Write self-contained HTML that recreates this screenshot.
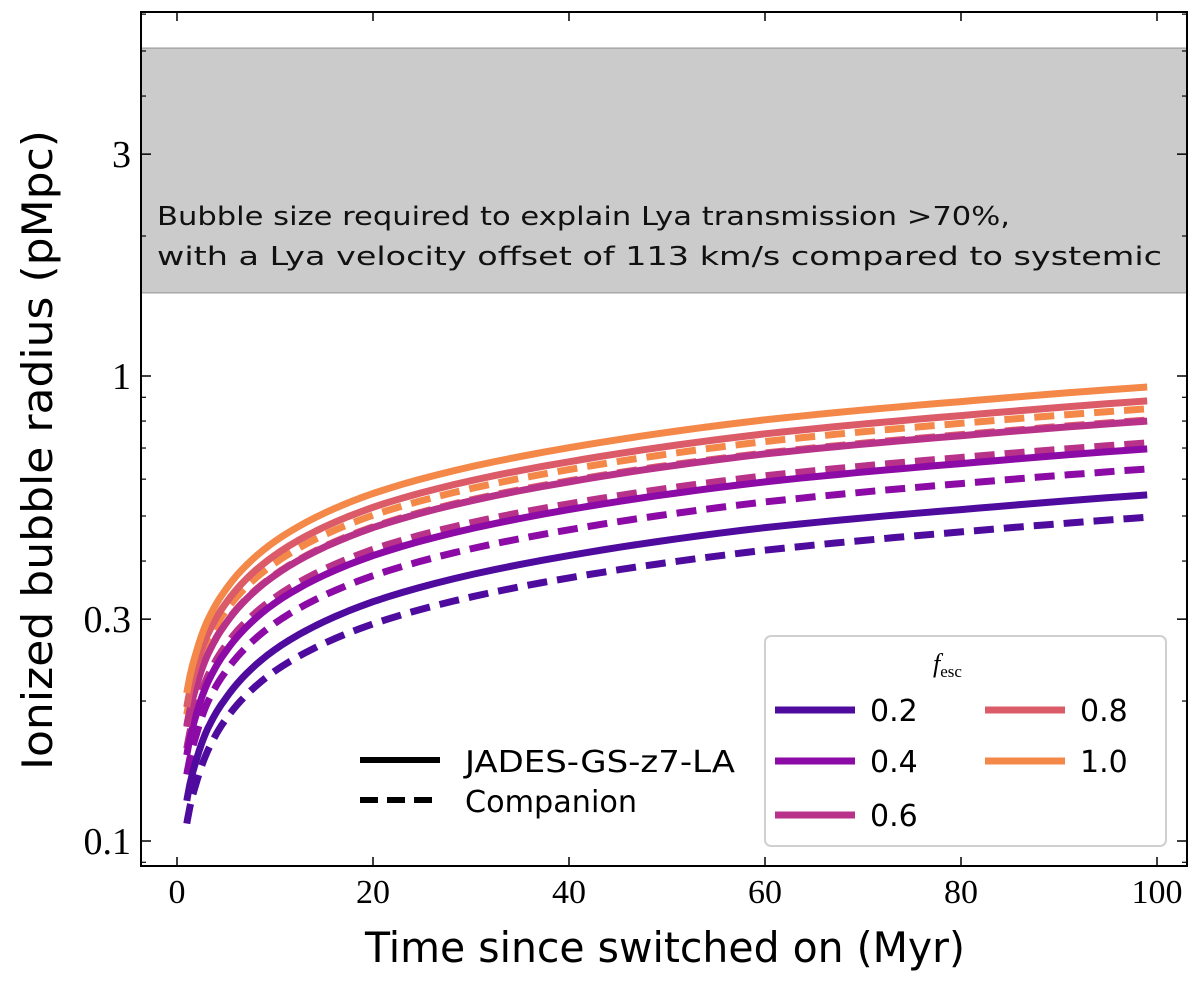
<!DOCTYPE html>
<html><head><meta charset="utf-8"><style>
html,body{margin:0;padding:0;background:#fff;}
svg text{font-family:"DejaVu Sans","Liberation Sans",sans-serif;}
.serif{font-family:"Liberation Serif",serif;}
</style></head><body>
<svg id="chart" width="1200" height="984" viewBox="0 0 1200 984">
<defs><clipPath id="clip"><rect x="141" y="12" width="1046" height="854"/></clipPath></defs>
<g id="plot"></g>
</svg>
<script>
const times=[1,2,3,5,10,20,40,60,80,99];
const fescLabels=["0.2","0.4","0.6","0.8","1.0"];
const colors=["#4f0b9e","#8c0aa5","#b93289","#db5c68","#f48849"];
const solid02=[0.122,0.150,0.172,0.203,0.258,0.327,0.411,0.472,0.516,0.555];
const solid04=[0.153,0.188,0.216,0.256,0.325,0.411,0.516,0.592,0.648,0.697];
const solid06=[0.176,0.216,0.248,0.294,0.373,0.472,0.592,0.680,0.744,0.80];
const solid08=[0.194,0.239,0.274,0.325,0.412,0.522,0.654,0.751,0.822,0.884];
const solid10=[0.208,0.256,0.294,0.348,0.441,0.559,0.701,0.805,0.881,0.947];
const dash02=[0.109,0.134,0.154,0.183,0.232,0.293,0.368,0.422,0.462,0.497];
const dash04=[0.139,0.170,0.196,0.232,0.294,0.372,0.467,0.536,0.587,0.631];
const dash06=[0.158,0.194,0.223,0.264,0.334,0.424,0.531,0.610,0.668,0.718];
const dash08=[0.177,0.217,0.249,0.295,0.374,0.474,0.595,0.683,0.748,0.804];
const dash10=[0.187,0.230,0.264,0.313,0.396,0.502,0.629,0.723,0.791,0.85];
const band=[1.51,5.07];
const xTicks=[0,20,40,60,80,100];
const yTicks=[0.1,0.3,1,3];
const yTickLabels=["0.1","0.3","1","3"];
const yMinor=[0.09,0.2,0.4,0.5,0.6,0.7,0.8,0.9,2,4,5,6];

const L=141,R=1187,T=12,B=866;
const X=v=>177+(v)*9.8;
const Y=v=>376-Math.log10(v)*465;
const NS="http://www.w3.org/2000/svg";
const g=document.getElementById('plot');
function mk(tag,attrs,parent){const e=document.createElementNS(NS,tag);for(const k in attrs)e.setAttribute(k,attrs[k]);(parent||g).appendChild(e);return e;}

const bandEl=mk('rect',{x:L,y:Y(band[1]),width:R-L,height:Y(band[0])-Y(band[1]),fill:'#cbcbcb',stroke:'#a8a8a8','stroke-width':1.5});


const t1=mk('text',{x:157,y:225,'font-size':26,fill:'#111',textLength:853,lengthAdjust:'spacingAndGlyphs'});t1.textContent="Bubble size required to explain Lya transmission >70%,";


const t2=mk('text',{x:157,y:265,'font-size':26,fill:'#111',textLength:1005,lengthAdjust:'spacingAndGlyphs'});t2.textContent="with a Lya velocity offset of 113 km/s compared to systemic";



function path(vals){
  const pts=[];
  for(let i=0;i<times.length-1;i++){
    for(let s=0;s<10;s++){
      const f=s/10;
      const lt=Math.log(times[i])*(1-f)+Math.log(times[i+1])*f;
      const lv=Math.log(vals[i])*(1-f)+Math.log(vals[i+1])*f;
      pts.push([X(Math.exp(lt)),Y(Math.exp(lv))]);
    }
  }
  pts.push([X(times[times.length-1]),Y(vals[vals.length-1])]);
  return 'M'+pts.map(p=>p[0].toFixed(1)+','+p[1].toFixed(1)).join('L');
}
const solids=[solid02,solid04,solid06,solid08,solid10];
const dashes=[dash02,dash04,dash06,dash08,dash10];
const cg=mk('g',{'clip-path':'url(#clip)'});
for(let i=0;i<5;i++){
  const d=mk('path',{d:path(dashes[i]),fill:'none',stroke:colors[i],'stroke-width':7,'stroke-dasharray':'20 10','stroke-linejoin':'round'},cg);
  
  
}
for(let i=0;i<5;i++){
  const s=mk('path',{d:path(solids[i]),fill:'none',stroke:colors[i],'stroke-width':7,'stroke-linejoin':'round'},cg);
  
  
}

const fr=mk('rect',{x:L,y:T,width:R-L,height:B-T,fill:'none',stroke:'#000','stroke-width':2});


xTicks.forEach(v=>{
  mk('line',{x1:X(v),x2:X(v),y1:B,y2:B-9,stroke:'#000','stroke-width':1.5});
  mk('line',{x1:X(v),x2:X(v),y1:T,y2:T+9,stroke:'#000','stroke-width':1.5});
  const t=mk('text',{x:X(v),y:903,'font-size':34,'text-anchor':'middle',class:'serif'});t.textContent=v;
  
  
});
yTicks.forEach((v,i)=>{
  mk('line',{x1:L,x2:L+10,y1:Y(v),y2:Y(v),stroke:'#000','stroke-width':1.5});
  mk('line',{x1:R,x2:R-10,y1:Y(v),y2:Y(v),stroke:'#000','stroke-width':1.5});
  const t=mk('text',{x:131,y:Y(v)+13,'font-size':38,'text-anchor':'end',class:'serif'});t.textContent=yTickLabels[i];
  
  
});
yMinor.forEach(v=>{
  mk('line',{x1:L,x2:L+5,y1:Y(v),y2:Y(v),stroke:'#000','stroke-width':1.2});
  mk('line',{x1:R,x2:R-5,y1:Y(v),y2:Y(v),stroke:'#000','stroke-width':1.2});
});
const xt=mk('text',{x:365,y:962,'font-size':42,textLength:600,lengthAdjust:'spacingAndGlyphs'});xt.textContent="Time since switched on (Myr)";


const yt=mk('text',{x:0,y:0,'font-size':42,textLength:640,lengthAdjust:'spacingAndGlyphs',transform:'translate(52,770) rotate(-90)'});yt.textContent="Ionized bubble radius (pMpc)";



mk('line',{x1:360,x2:440,y1:760,y2:760,stroke:'#000','stroke-width':6});
mk('line',{x1:360,x2:440,y1:800,y2:800,stroke:'#000','stroke-width':6,'stroke-dasharray':'18 9'});
const l1=mk('text',{x:465,y:772,'font-size':30,textLength:270,lengthAdjust:'spacingAndGlyphs'});l1.textContent="JADES-GS-z7-LA";


const l2=mk('text',{x:465,y:812,'font-size':30,textLength:172,lengthAdjust:'spacingAndGlyphs'});l2.textContent="Companion";



const lb=mk('rect',{x:765,y:636,width:401,height:210,rx:6,fill:'#fff',stroke:'#d0d0d0','stroke-width':2});


const lt=mk('text',{x:933,y:672,'font-size':26,'font-style':'italic',class:'serif'});lt.textContent="f";
const ls=mk('tspan',{dy:5,'font-size':17,'font-style':'normal'},lt);ls.textContent="esc";


const pos=[[775,710],[775,761],[775,815],[985,710],[985,761]];
for(let i=0;i<5;i++){
  mk('line',{x1:pos[i][0],x2:pos[i][0]+80,y1:pos[i][1],y2:pos[i][1],stroke:colors[i],'stroke-width':7});
  const t=mk('text',{x:pos[i][0]+95,y:pos[i][1]+11,'font-size':30});t.textContent=fescLabels[i];
  
  
}
</script>
</body></html>
